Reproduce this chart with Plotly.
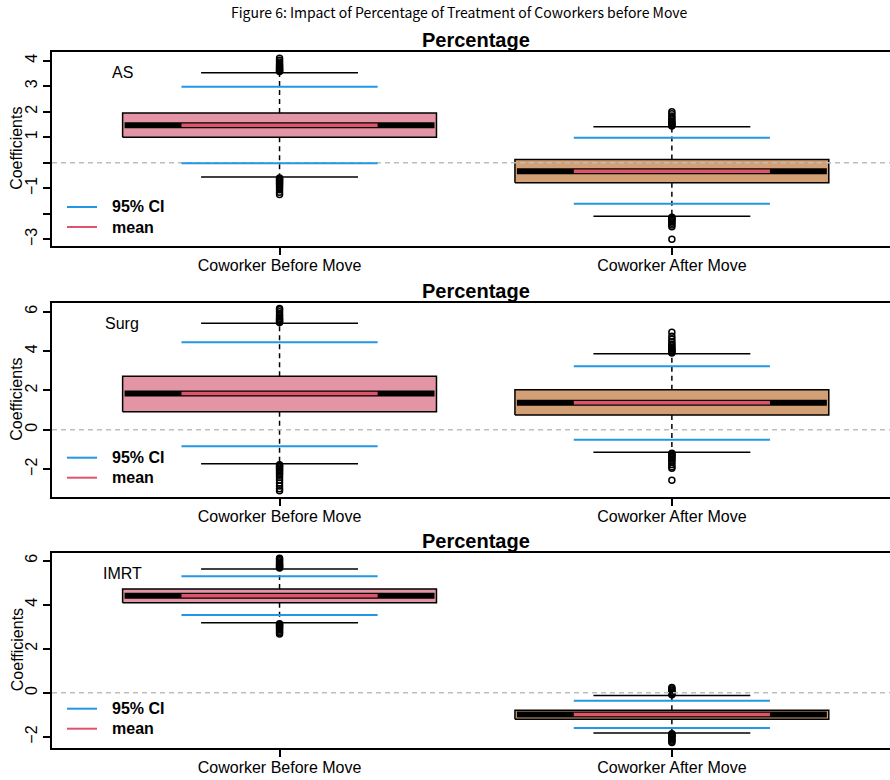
import plotly.graph_objects as go

# Categories and panels
groups = ["Coworker Before Move", "Coworker After Move"]
panel_names = ["AS", "Surg", "IMRT"]
positions = [1, 2]

# Box statistics per panel: [before move, after move]
box_low = [[1.00, -0.78], [0.92, 0.75], [4.09, -1.20]]
box_median = [[1.47, -0.33], [1.84, 1.38], [4.41, -0.98]]
box_high = [[1.95, 0.13], [2.72, 2.03], [4.71, -0.79]]
whisker_low = [[-0.56, -2.09], [-1.72, -1.14], [3.18, -1.82]]
whisker_high = [[3.53, 1.41], [5.42, 3.86], [5.62, -0.12]]

# Mean and 95% confidence interval per panel
mean_values = [[1.47, -0.33], [1.84, 1.38], [4.41, -0.98]]
ci_low = [[-0.02, -1.61], [-0.83, -0.51], [3.53, -1.60]]
ci_high = [[2.98, 0.98], [4.45, 3.23], [5.29, -0.36]]

# Outlying coefficients per panel and group
outliers = [
    [
        [3.57, 3.60, 3.63, 3.66, 3.70, 3.74, 3.78, 3.83, 3.88, 3.95, 4.02, 4.09,
         -0.60, -0.63, -0.67, -0.71, -0.75, -0.80, -0.85, -0.91, -0.98, -1.06, -1.15, -1.24],
        [1.44, 1.48, 1.52, 1.57, 1.62, 1.68, 1.75, 1.83, 1.92, 2.00,
         -2.13, -2.17, -2.21, -2.26, -2.31, -2.37, -2.44, -2.51, -3.00],
    ],
    [
        [5.46, 5.50, 5.55, 5.60, 5.66, 5.73, 5.81, 5.90, 6.00, 6.10, 6.16,
         -1.78, -1.83, -1.88, -1.94, -2.00, -2.07, -2.14, -2.22, -2.31, -2.42, -2.55,
         -2.70, -2.86, -3.00, -3.10],
        [3.90, 3.95, 4.00, 4.06, 4.12, 4.19, 4.27, 4.36, 4.47, 4.60, 4.75, 4.96,
         -1.19, -1.24, -1.29, -1.35, -1.41, -1.48, -1.56, -1.65, -1.76, -1.88, -1.95, -2.57],
    ],
    [
        [5.66, 5.70, 5.74, 5.78, 5.83, 5.88, 5.94, 6.00, 6.06, 6.11,
         3.14, 3.10, 3.06, 3.02, 2.97, 2.92, 2.86, 2.80, 2.74, 2.67],
        [-0.09, -0.05, -0.01, 0.03, 0.08, 0.13, 0.19, 0.24,
         -1.86, -1.90, -1.94, -1.98, -2.03, -2.08, -2.14, -2.20, -2.25],
    ],
]

# Axis settings per panel
y_ranges = [[-3.26, 4.35], [-3.40, 6.46], [-2.49, 6.36]]
y_ticks = [[-3, -2, -1, 0, 1, 2, 3, 4], [-2, 0, 2, 4, 6], [-2, 0, 2, 4, 6]]
y_ticktext = [["−3", "", "−1", "", "1", "2", "3", "4"],
              ["−2", "0", "2", "4", "6"],
              ["−2", "0", "2", "4", "6"]]
x_range = [0.42, 2.556]

# Legend entries
legend_labels = ["95% CI", "mean"]

W, H = 890, 780
panel_px = [(51.7, 246.0), (302.7, 496.7), (552.7, 747.7)]
plot_left = 52

box_fill = ["#E495A5", "#D2A074"]
black = "#000000"
blue = "#2297E6"
red = "#DF536B"
legend_colors = [blue, red]
zero_grey = "#BEBEBE"

BOX_HW, CAP_HW, SEG_HW = 0.4, 0.2, 0.25
FONT = "Liberation Sans, Arial, sans-serif"

fig = go.Figure()

for i in range(3):
    sfx = "" if i == 0 else str(i + 1)
    xa, ya = "x" + sfx, "y" + sfx

    # box bodies
    for g, p in enumerate(positions):
        lo, hi = box_low[i][g], box_high[i][g]
        fig.add_trace(go.Scatter(
            x=[p - BOX_HW, p + BOX_HW, p + BOX_HW, p - BOX_HW, p - BOX_HW],
            y=[lo, lo, hi, hi, lo], mode="lines", fill="toself",
            fillcolor=box_fill[g], line=dict(color=black, width=1.5),
            xaxis=xa, yaxis=ya, showlegend=False, hoverinfo="skip"))

    # dashed whiskers
    wx, wy = [], []
    for g, p in enumerate(positions):
        wx += [p, p, None, p, p, None]
        wy += [box_high[i][g], whisker_high[i][g], None, box_low[i][g], whisker_low[i][g], None]
    fig.add_trace(go.Scatter(x=wx, y=wy, mode="lines",
                             line=dict(color=black, width=1.5, dash="5px,4px"),
                             xaxis=xa, yaxis=ya, showlegend=False, hoverinfo="skip"))

    # whisker caps
    cx, cy = [], []
    for g, p in enumerate(positions):
        for v in (whisker_high[i][g], whisker_low[i][g]):
            cx += [p - CAP_HW, p + CAP_HW, None]
            cy += [v, v, None]
    fig.add_trace(go.Scatter(x=cx, y=cy, mode="lines", line=dict(color=black, width=1.5),
                             xaxis=xa, yaxis=ya, showlegend=False, hoverinfo="skip"))

    # medians
    mx, my = [], []
    for g, p in enumerate(positions):
        mx += [p - BOX_HW + 0.005, p + BOX_HW - 0.005, None]
        my += [box_median[i][g], box_median[i][g], None]
    fig.add_trace(go.Scatter(x=mx, y=my, mode="lines", line=dict(color=black, width=6),
                             xaxis=xa, yaxis=ya, showlegend=False, hoverinfo="skip"))

    # outliers
    ox, oy = [], []
    for g, p in enumerate(positions):
        ox += [p] * len(outliers[i][g])
        oy += outliers[i][g]
    fig.add_trace(go.Scatter(x=ox, y=oy, mode="markers",
                             marker=dict(symbol="circle-open", size=6, color=black,
                                         line=dict(width=1.5, color=black)),
                             xaxis=xa, yaxis=ya, showlegend=False, hoverinfo="skip"))

    # reference line at zero
    fig.add_trace(go.Scatter(x=x_range, y=[0, 0], mode="lines",
                             line=dict(color=zero_grey, width=1.5, dash="5px,4px"),
                             xaxis=xa, yaxis=ya, showlegend=False, hoverinfo="skip"))

    # 95% CI
    bx, by = [], []
    for g, p in enumerate(positions):
        for v in (ci_high[i][g], ci_low[i][g]):
            bx += [p - SEG_HW, p + SEG_HW, None]
            by += [v, v, None]
    fig.add_trace(go.Scatter(x=bx, y=by, mode="lines", name=legend_labels[0],
                             line=dict(color=blue, width=2),
                             xaxis=xa, yaxis=ya, showlegend=False))

    # means
    rx, ry = [], []
    for g, p in enumerate(positions):
        rx += [p - SEG_HW, p + SEG_HW, None]
        ry += [mean_values[i][g], mean_values[i][g], None]
    fig.add_trace(go.Scatter(x=rx, y=ry, mode="lines", name=legend_labels[1],
                             line=dict(color=red, width=3.5),
                             xaxis=xa, yaxis=ya, showlegend=False))

layout = dict(
    width=W, height=H, margin=dict(l=0, r=0, t=0, b=0),
    plot_bgcolor="white", paper_bgcolor="white",
    font=dict(family=FONT, size=16, color=black),
    annotations=[], shapes=[], showlegend=False,
)

for i in range(3):
    sfx = "" if i == 0 else str(i + 1)
    top, bot = panel_px[i]
    layout["xaxis" + sfx] = dict(
        domain=[plot_left / W, 1.0], range=x_range, anchor="y" + sfx,
        tickvals=positions, ticktext=groups, ticks="outside", ticklen=7,
        tickwidth=2, tickcolor=black, showline=True, linecolor=black,
        linewidth=2, mirror=True, showgrid=False, zeroline=False,
        ticklabelstandoff=-3,
        tickfont=dict(family=FONT, size=16, color=black), fixedrange=True)
    layout["yaxis" + sfx] = dict(
        domain=[1 - bot / H, 1 - top / H], range=y_ranges[i], anchor="x" + sfx,
        tickvals=y_ticks[i], ticktext=y_ticktext[i], ticks="outside", ticklen=7,
        tickwidth=2, tickcolor=black, showline=True, linecolor=black,
        linewidth=2, showgrid=False, zeroline=False, tickangle=-90,
        tickfont=dict(family=FONT, size=16, color=black), fixedrange=True)

    # key in the lower-left corner of each panel
    for k, (label, col) in enumerate(zip(legend_labels, legend_colors)):
        ky = 1 - (bot - 39 + 20 * k) / H
        layout["shapes"].append(dict(
            type="line", xref="paper", yref="paper", x0=67 / W, x1=97 / W,
            y0=ky, y1=ky, line=dict(color=col, width=2)))
        layout["annotations"].append(dict(
            text="<b>%s</b>" % label, x=110 / W, y=ky, xref="paper", yref="paper",
            xanchor="left", yanchor="middle", showarrow=False,
            font=dict(family=FONT, size=16, color=black)))

    layout["annotations"] += [
        dict(text="<b>Percentage</b>", x=475.5 / W, y=1 - (top - 12) / H,
             xref="paper", yref="paper", xanchor="center", yanchor="middle",
             showarrow=False, font=dict(family=FONT, size=20, color=black)),
        dict(text=panel_names[i], x=122 / W, y=1 - (top + 21) / H,
             xref="paper", yref="paper", xanchor="center", yanchor="middle",
             showarrow=False, font=dict(family=FONT, size=16, color=black)),
        dict(text="Coefficients", x=17 / W, y=1 - ((top + bot) / 2) / H,
             xref="paper", yref="paper", xanchor="center", yanchor="middle",
             textangle=-90, showarrow=False,
             font=dict(family=FONT, size=16, color=black)),
    ]

layout["annotations"].append(dict(
    text="Figure 6: Impact of Percentage of Treatment of Coworkers before Move",
    x=459 / W, y=1 - 12 / H, xref="paper", yref="paper",
    xanchor="center", yanchor="middle", showarrow=False,
    font=dict(family="Noto Sans CJK SC, sans-serif", size=14, color=black)))

fig.update_layout(**layout)
fig.write_html("out.html", config={"displayModeBar": False})
